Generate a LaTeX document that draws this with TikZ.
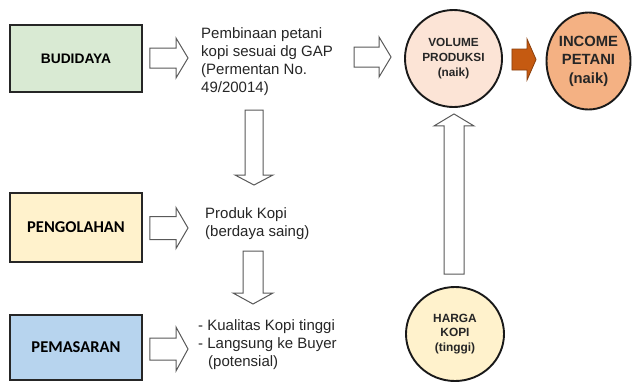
\documentclass[tikz,border=0pt]{standalone}
\usepackage{fontspec}
\setmainfont{Liberation Sans}
\newfontfamily\carl{Carlito}
\usetikzlibrary{calc,shapes.geometric}
\definecolor{budfill}{HTML}{D9EAD3}
\definecolor{pengfill}{HTML}{FFF2CC}
\definecolor{pemfill}{HTML}{B7D4EE}
\definecolor{volfill}{HTML}{FCE4D6}
\definecolor{incfill}{HTML}{F4B183}
\definecolor{hrgfill}{HTML}{FFF2CC}
\definecolor{arrfill}{HTML}{C55A11}
\definecolor{txt}{HTML}{262626}
\tikzset{
  box/.style={draw=black!85, line width=1.7pt, minimum width=132pt, inner sep=0pt},
  circ/.style={draw=black!90, line width=1.9pt, ellipse, inner sep=0pt, align=center, text=txt},
  body/.style={inner sep=0pt, anchor=west, align=left, text=txt, font=\fontsize{15}{18}\selectfont},
  blockarrow/.style={draw=black!65, line width=1pt, fill=white, line join=miter},
  hotarrow/.style={draw=arrfill!70!black, line width=0.8pt, fill=arrfill}
}
% horizontal block arrow: [style] start end halfbody halfhead headlength
\newcommand{\hblock}[6][]{%
  \draw[blockarrow,#1] let \p1=(#2), \p2=(#3), \n1={sign(\x2-\x1)} in
   (\x1,\y1+#4) -- (\x2-\n1*#6,\y1+#4) -- (\x2-\n1*#6,\y1+#5) -- (\x2,\y1)
   -- (\x2-\n1*#6,\y1-#5) -- (\x2-\n1*#6,\y1-#4) -- (\x1,\y1-#4) -- cycle;}
% vertical block arrow
\newcommand{\vblock}[6][]{%
  \draw[blockarrow,#1] let \p1=(#2), \p2=(#3), \n1={sign(\y2-\y1)} in
   (\x1+#4,\y1) -- (\x1+#4,\y2-\n1*#6) -- (\x1+#5,\y2-\n1*#6) -- (\x1,\y2)
   -- (\x1-#5,\y2-\n1*#6) -- (\x1-#4,\y2-\n1*#6) -- (\x1-#4,\y1) -- cycle;}
\begin{document}
\begin{tikzpicture}[x=1pt,y=-1pt]
\useasboundingbox (0,0) rectangle (632,381);
\clip (0,0) rectangle (632,381);
\fill[white] (0,0) rectangle (632,381);

% left boxes
\node[box, fill=budfill, minimum height=67pt, font=\bfseries\fontsize{13.8}{15}\selectfont] (bud) at (76,58.5) {BUDIDAYA};
\node[box, fill=pengfill, minimum height=69pt, font=\carl\bfseries\fontsize{16.5}{18}\selectfont] (peng) at (76,227.5) {PENGOLAHAN};
\node[box, fill=pemfill, minimum height=65pt, font=\carl\bfseries\fontsize{16.5}{18}\selectfont] (pem) at (76,347.5) {PEMASARAN};

% texts
\node[body] (t1) at (201,62) {Pembinaan petani\\kopi sesuai dg GAP\\(Permentan No.\\49/20014)};
\node[body] (t2) at (205,224) {Produk Kopi\\(berdaya saing)};
\node[body] (t3) at (198,345) {- Kualitas Kopi tinggi\\- Langsung ke Buyer\\\hspace*{10pt}(potensial)};

% circles
\node[circ, fill=volfill, minimum width=97pt, minimum height=97pt, font=\bfseries\fontsize{11.8}{15}\selectfont] (vol) at (453.5,58.5) {VOLUME\\PRODUKSI\\(naik)};
\node[circ, fill=incfill, minimum width=84pt, minimum height=97pt, font=\bfseries\fontsize{14.8}{18.5}\selectfont] (inc) at (588.5,61) {INCOME\\PETANI\\(naik)};
\node[circ, fill=hrgfill, minimum width=98pt, minimum height=94pt, font=\bfseries\fontsize{11.9}{14.5}\selectfont] (hrg) at (455,334) {HARGA\\KOPI\\(tinggi)};

% connector end points
\coordinate (a1s) at ($(bud.east)+(7,-0.5)$);
\coordinate (a1e) at ($(t1.west)+(-13,-4)$);
\coordinate (a2s) at ($(peng.east)+(7,0.5)$);
\coordinate (a2e) at ($(t2.west)+(-17,4)$);
\coordinate (a3s) at ($(pem.east)+(7,1.5)$);
\coordinate (a3e) at ($(t3.west)+(-10,4)$);
\coordinate (a4s) at (354,57);
\coordinate (a4e) at ($(vol.west)+(-13,-1.5)$);
\coordinate (a5s) at ($(vol.east)+(9,1)$);
\coordinate (a5e) at ($(inc.west)+(-9.5,-1.5)$);
\coordinate (d1s) at (254,110);
\coordinate (d1e) at (254,185);
\coordinate (d2s) at (253,251);
\coordinate (d2e) at (253,304);
\coordinate (u1s) at ($(hrg.north)+(-1,-12)$);
\coordinate (u1e) at ($(vol.south)+(0.5,6)$);

\hblock{a1s}{a1e}{10pt}{20pt}{12pt}
\hblock{a2s}{a2e}{11.5pt}{20.5pt}{12pt}
\hblock{a3s}{a3e}{11pt}{22pt}{12pt}
\hblock{a4s}{a4e}{10pt}{20pt}{12pt}
\hblock[hotarrow]{a5s}{a5e}{10.5pt}{20.5pt}{9pt}
\vblock{d1s}{d1e}{9pt}{19pt}{10pt}
\vblock{d2s}{d2e}{10pt}{20pt}{11pt}
\vblock{u1s}{u1e}{10pt}{20pt}{12pt}
\end{tikzpicture}
\end{document}
